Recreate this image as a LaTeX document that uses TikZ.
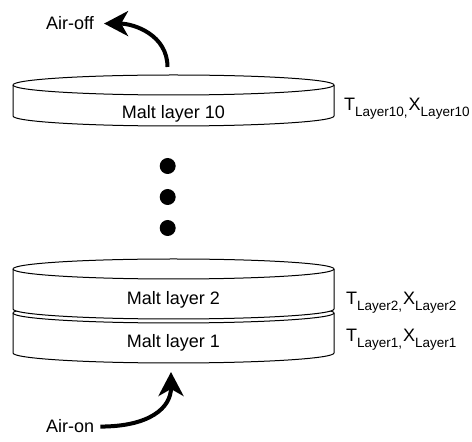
\documentclass[tikz,border=0pt]{standalone}
\usepackage{fontspec}
\setmainfont{Liberation Sans}
\usetikzlibrary{arrows.meta}
\definecolor{ink}{HTML}{000000}
\tikzset{
  disc/.style={draw=ink,line width=1pt,fill=white},
  disctext/.style={font=\fontsize{18}{21}\selectfont,text=ink,inner sep=0pt},
  state/.style={anchor=base west,font=\fontsize{18}{21}\selectfont,text=ink,inner sep=0pt},
  dot/.style={circle,fill=ink,minimum size=16pt,inner sep=0pt},
  airarr/.style={-{Stealth[length=24pt,width=25pt,inset=7pt]},line width=4pt,draw=ink},
}
% subscript of the layer labels
\newcommand{\lyr}[1]{\raisebox{-0.3em}{\fontsize{13.5}{15}\selectfont #1}}
% one malt disc: name, top y, bottom y, label y, label
\newcommand{\maltdisc}[5]{%
  \filldraw[disc] (13,#2-10) -- (13,#3+10)
    arc[start angle=180,end angle=360,x radius=160.5,y radius=10]
    -- (334,#2-10)
    arc[start angle=0,end angle=180,x radius=160.5,y radius=10] -- cycle;
  \draw[disc] (13,#2-10) arc[start angle=180,end angle=360,x radius=160.5,y radius=10];
  \node[disctext] (#1) at (173.5,#4) {#5};
}

\begin{document}
\begin{tikzpicture}[x=1pt,y=1pt]
  \useasboundingbox (0,0) rectangle (472,442);

  % ---------------------------------------------------------------- the bed
  \maltdisc{layer1}{139}{79}{99}{Malt layer 1}
  \maltdisc{layer2}{183}{123}{142}{Malt layer 2}
  \maltdisc{layer10}{367}{316}{328}{Malt layer 10}

  \foreach \y [count=\i] in {276,245,214}
    \node[dot] (dot\i) at (167.7,\y) {};

  \node[state] (s10) at (344,331) {T\lyr{Layer10,}\hspace{1pt}X\lyr{Layer10}};
  \node[state] (s2) at (346,137) {T\lyr{Layer2,}\hspace{1pt}X\lyr{Layer2}};
  \node[state] (s1) at (346,100) {T\lyr{Layer1,}\hspace{1pt}X\lyr{Layer1}};

  % ---------------------------------------------------------------- air flow
  \node[state] (airoff) at (46,412) {Air-off};
  \node[state] (airon) at (46,9) {Air-on};
  \coordinate (outlet) at (167.5,367);
  \coordinate (inlet) at (171,79);

  \draw[airarr,shorten <=8pt,shorten >=10pt] (outlet) .. controls +(0,40) and +(40,0) .. (airoff.east);
  \draw[airarr,shorten <=6pt,shorten >=9pt] (airon.east) .. controls +(55,0) and +(0,-45) .. (inlet);
\end{tikzpicture}
\end{document}
